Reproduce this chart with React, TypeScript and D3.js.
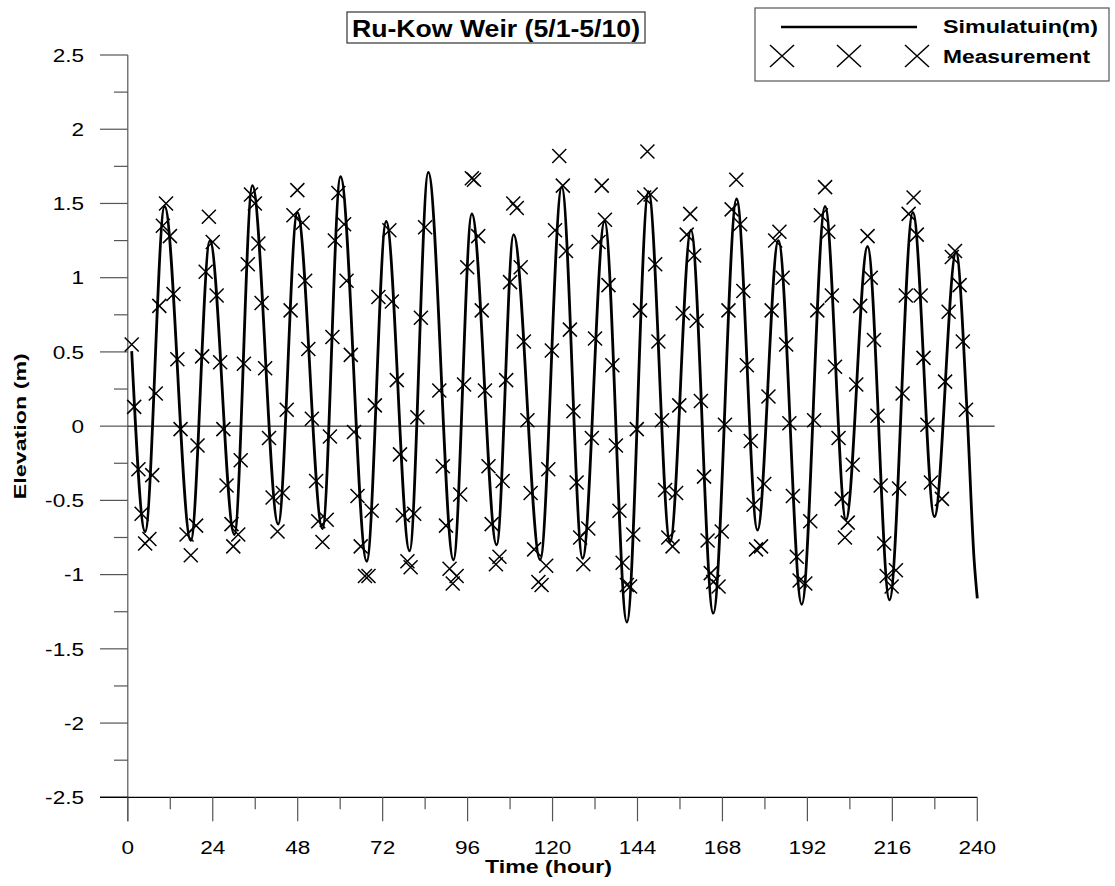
import React from "react";
import * as d3 from "d3";

// Simulation (m): times (hour) and elevations read at turning points
const simTimes = [1.1, 4.9, 10.4, 17.8, 23.2, 30.1, 35.2, 42.5, 47.9, 55.0, 60.1, 67.5, 73.0, 79.6, 84.9, 92.0, 97.2, 104.2, 109.0, 116.5, 122.6, 128.5, 134.7, 141.0, 147.1, 153.2, 159.1, 165.4, 172.0, 177.9, 183.8, 190.4, 197.0, 202.9, 209.0, 215.2, 221.8, 227.9, 234.0, 237.1, 239.1, 240.0];
const simValues = [0.505, -0.71, 1.48, -0.77, 1.25, -0.73, 1.62, -0.66, 1.44, -0.69, 1.68, -0.91, 1.38, -0.84, 1.71, -0.9, 1.43, -0.8, 1.29, -0.9, 1.61, -0.89, 1.38, -1.32, 1.58, -0.78, 1.32, -1.26, 1.53, -0.7, 1.25, -1.2, 1.48, -0.63, 1.21, -1.17, 1.44, -0.61, 1.17, 0.1, -0.9, -1.16];

// Measurement: times (hour) and elevations
const measTimes = [
  1.1, 1.8, 3.0, 3.9, 4.9, 6.1, 6.9, 7.9, 8.9, 9.9, 10.8, 11.9, 12.9, 14.0, 14.9, 16.6, 17.8, 19.3, 19.7, 21.0,
  22.0, 22.9, 24.0, 25.1, 26.1, 27.0, 27.9, 29.3, 29.8, 31.2, 31.9, 32.8, 33.9, 34.8, 35.9, 36.9, 37.8, 38.8, 39.9, 40.9,
  42.3, 43.8, 44.9, 46.0, 46.8, 47.9, 49.4, 50.1, 51.0, 52.0, 53.2, 53.8, 55.0, 56.2, 57.1, 57.8, 58.5, 59.5, 61.1, 61.8,
  63.0, 63.9, 64.9, 65.8, 67.0, 68.0, 68.9, 69.8, 70.8, 73.9, 74.6, 76.0, 76.9, 77.7, 79.0, 79.9, 80.9, 81.8, 82.8, 84.0,
  88.0, 89.0, 89.9, 90.9, 91.8, 92.9, 93.9, 95.0, 95.9, 97.2, 97.8, 99.0, 100.0, 100.9, 101.9, 102.8, 104.0, 105.0, 105.9, 106.9,
  108.0, 108.9, 109.9, 111.0, 111.9, 112.9, 113.8, 114.8, 116.0, 116.9, 118.2, 118.8, 119.8, 120.7, 121.9, 122.9, 123.8, 124.9, 125.9, 126.8,
  127.8, 128.7, 130.1, 131.1, 132.0, 133.0, 133.9, 134.8, 135.8, 136.9, 137.9, 138.9, 139.8, 141.0, 141.9, 142.8, 143.8, 144.7, 145.9, 146.8,
  147.7, 149.0, 149.9, 150.9, 151.8, 152.7, 153.9, 154.9, 155.8, 156.8, 157.9, 158.9, 160.0, 160.7, 161.9, 162.8, 163.8, 164.7, 165.4, 166.9,
  167.8, 168.7, 169.7, 170.6, 171.9, 173.0, 173.9, 174.9, 176.0, 176.8, 177.5, 178.9, 179.8, 181.0, 181.9, 182.9, 184.1, 185.0, 186.0, 186.9,
  187.9, 189.0, 189.8, 191.4, 192.8, 193.9, 194.8, 195.8, 197.0, 197.9, 198.9, 199.8, 200.8, 201.7, 202.6, 203.4, 204.8, 205.8, 206.9, 209.0,
  209.9, 210.8, 211.8, 212.7, 213.7, 214.4, 215.8, 217.0, 217.9, 218.9, 219.8, 220.6, 222.0, 222.9, 224.0, 224.8, 225.9, 226.9, 230.0, 230.9,
  231.9, 232.8, 233.7, 235.0, 235.9, 236.8,
];
const measValues = [
  0.55, 0.13, -0.29, -0.59, -0.79, -0.76, -0.33, 0.22, 0.81, 1.35, 1.5, 1.28, 0.89, 0.45, -0.02, -0.73, -0.87, -0.67, -0.13, 0.47,
  1.04, 1.41, 1.24, 0.88, 0.43, -0.02, -0.4, -0.66, -0.81, -0.73, -0.23, 0.42, 1.09, 1.56, 1.5, 1.23, 0.83, 0.39, -0.08, -0.48,
  -0.71, -0.45, 0.11, 0.78, 1.42, 1.59, 1.37, 0.98, 0.52, 0.05, -0.37, -0.64, -0.78, -0.63, -0.07, 0.6, 1.25, 1.57, 1.36, 0.98,
  0.48, -0.04, -0.47, -0.81, -1.01, -1.01, -0.57, 0.14, 0.87, 1.32, 0.84, 0.31, -0.19, -0.6, -0.91, -0.95, -0.59, 0.06, 0.73, 1.34,
  0.24, -0.27, -0.67, -0.96, -1.06, -1.01, -0.46, 0.28, 1.07, 1.67, 1.66, 1.28, 0.78, 0.24, -0.27, -0.66, -0.93, -0.88, -0.37, 0.31,
  0.97, 1.5, 1.47, 1.07, 0.57, 0.04, -0.45, -0.83, -1.05, -1.07, -0.94, -0.29, 0.51, 1.32, 1.82, 1.62, 1.18, 0.65, 0.1, -0.38,
  -0.75, -0.93, -0.69, -0.08, 0.59, 1.24, 1.62, 1.39, 0.95, 0.41, -0.13, -0.57, -0.92, -1.07, -1.08, -0.73, -0.02, 0.78, 1.54, 1.85,
  1.56, 1.09, 0.57, 0.04, -0.43, -0.75, -0.81, -0.45, 0.14, 0.76, 1.29, 1.43, 1.15, 0.71, 0.17, -0.34, -0.77, -0.99, -1.05, -1.08,
  -0.71, 0.01, 0.78, 1.46, 1.66, 1.36, 0.91, 0.41, -0.1, -0.53, -0.83, -0.81, -0.39, 0.2, 0.78, 1.25, 1.31, 1.0, 0.55, 0.02,
  -0.47, -0.88, -1.04, -1.06, -0.64, 0.04, 0.78, 1.42, 1.61, 1.31, 0.88, 0.4, -0.08, -0.49, -0.75, -0.65, -0.26, 0.28, 0.81, 1.28,
  1.0, 0.58, 0.07, -0.4, -0.79, -1.01, -1.08, -0.97, -0.42, 0.22, 0.88, 1.43, 1.54, 1.29, 0.88, 0.46, 0.01, -0.38, -0.49, 0.3,
  0.77, 1.14, 1.18, 0.95, 0.57, 0.11,
];

const xMajorTicks = [0, 24, 48, 72, 96, 120, 144, 168, 192, 216, 240];
const xMinorTicks = [12, 36, 60, 84, 108, 132, 156, 180, 204, 228];
const yMajorTicks = [-2.5, -2, -1.5, -1, -0.5, 0, 0.5, 1, 1.5, 2, 2.5];
const yMinorTicks = [-2.25, -1.75, -1.25, -0.75, -0.25, 0.25, 0.75, 1.25, 1.75, 2.25];

const titleText = "Ru-Kow Weir (5/1-5/10)";
const xTitle = "Time (hour)";
const yTitle = "Elevation (m)";
const simLabel = "Simulatuin(m)";
const measLabel = "Measurement";

const FONT = "'Liberation Sans', Arial, Helvetica, sans-serif";

export default function App() {
  const x = d3.scaleLinear().domain([0, 240]).range([127.8, 977.3]);
  const y = d3.scaleLinear().domain([-2.5, 2.5]).range([797.3, 55]);

  const simData = simTimes.map((t, i) => [t, simValues[i]] as [number, number]);
  const line = d3
    .line<[number, number]>()
    .x((d) => x(d[0]))
    .y((d) => y(d[1]))
    .curve(d3.curveMonotoneX);

  const meas = measTimes.map((t, i) => ({ t, v: measValues[i] }));
  const m = 7;
  const axisColor = "#555";
  const stretch = 1.22;

  const cross = (cx: number, cy: number, hw: number, hh: number, key: string, sw: number) => (
    <path
      key={key}
      d={`M${cx - hw},${cy - hh}L${cx + hw},${cy + hh}M${cx - hw},${cy + hh}L${cx + hw},${cy - hh}`}
      stroke="#000"
      strokeWidth={sw}
      fill="none"
    />
  );

  return (
    <svg
      width={1115}
      height={886}
      style={{ position: "absolute", left: 0, top: 0, background: "#fff" }}
      fontFamily={FONT}
    >
      <rect x={0} y={0} width={1115} height={886} fill="#fff" />

      {/* Y axis */}
      <line x1={x(0)} x2={x(0)} y1={y(2.5)} y2={y(-2.5) + 24} stroke={axisColor} strokeWidth={1.2} />
      {yMajorTicks.map((v) => (
        <g key={"ym" + v}>
          <line x1={100} x2={x(0)} y1={y(v)} y2={y(v)} stroke={v === -2.5 ? "#000" : axisColor} strokeWidth={1.2} />
          <text
            transform={`translate(84,${y(v)}) scale(${stretch},1)`}
            dy="0.36em"
            textAnchor="end"
            fontSize={18.5}
            fill="#000"
          >
            {String(v)}
          </text>
        </g>
      ))}
      {yMinorTicks.map((v) => (
        <line key={"yn" + v} x1={114} x2={x(0)} y1={y(v)} y2={y(v)} stroke={axisColor} strokeWidth={1.2} />
      ))}

      {/* X axis */}
      <line x1={100} x2={x(240)} y1={y(-2.5)} y2={y(-2.5)} stroke="#000" strokeWidth={1.2} />
      {xMajorTicks.map((t) => (
        <g key={"xm" + t}>
          <line x1={x(t)} x2={x(t)} y1={y(-2.5)} y2={y(-2.5) + 24} stroke={axisColor} strokeWidth={1.2} />
          <text
            transform={`translate(${x(t)},847) scale(${stretch},1)`}
            dy="0.36em"
            textAnchor="middle"
            fontSize={18.5}
            fill="#000"
          >
            {t}
          </text>
        </g>
      ))}
      {xMinorTicks.map((t) => (
        <line key={"xn" + t} x1={x(t)} x2={x(t)} y1={y(-2.5)} y2={y(-2.5) + 12} stroke={axisColor} strokeWidth={1.2} />
      ))}

      {/* zero line */}
      <line x1={x(0)} x2={994.7} y1={y(0)} y2={y(0)} stroke="#000" strokeWidth={1} />

      {/* axis titles */}
      <text
        x={548.5}
        y={867}
        dy="0.36em"
        textAnchor="middle"
        fontSize={18}
        fontWeight="bold"
        textLength={127}
        lengthAdjust="spacingAndGlyphs"
      >
        {xTitle}
      </text>
      <text
        transform={`translate(20,${y(0)}) rotate(-90)`}
        textAnchor="middle"
        dy="0.36em"
        fontSize={16.5}
        fontWeight="bold"
        textLength={146}
        lengthAdjust="spacingAndGlyphs"
      >
        {yTitle}
      </text>

      {/* simulation line */}
      <path d={line(simData) || ""} fill="none" stroke="#000" strokeWidth={2.8} strokeLinejoin="round" />

      {/* measurements */}
      {meas.map((d, i) => cross(x(d.t), y(d.v), m, m, "m" + i, 1.5))}

      {/* title */}
      <rect x={347} y={12} width={298} height={31} fill="#fff" stroke="#333" strokeWidth={1.2} />
      <text
        x={496}
        y={28}
        dy="0.36em"
        textAnchor="middle"
        fontSize={24}
        fontWeight="bold"
        textLength={288}
        lengthAdjust="spacingAndGlyphs"
      >
        {titleText}
      </text>

      {/* legend */}
      <rect x={755} y={8} width={354} height={73} fill="#fff" stroke="#555" strokeWidth={1.2} />
      <line x1={781} x2={917} y1={27} y2={27} stroke="#000" strokeWidth={2.5} />
      <text
        x={943}
        y={27}
        dy="0.36em"
        fontSize={17.5}
        fontWeight="bold"
        textLength={155}
        lengthAdjust="spacingAndGlyphs"
      >
        {simLabel}
      </text>
      {[782, 849, 917].map((cx, i) => cross(cx, 56, 12, 11, "lg" + i, 1.5))}
      <text
        x={943}
        y={57}
        dy="0.36em"
        fontSize={17.5}
        fontWeight="bold"
        textLength={147}
        lengthAdjust="spacingAndGlyphs"
      >
        {measLabel}
      </text>
    </svg>
  );
}
